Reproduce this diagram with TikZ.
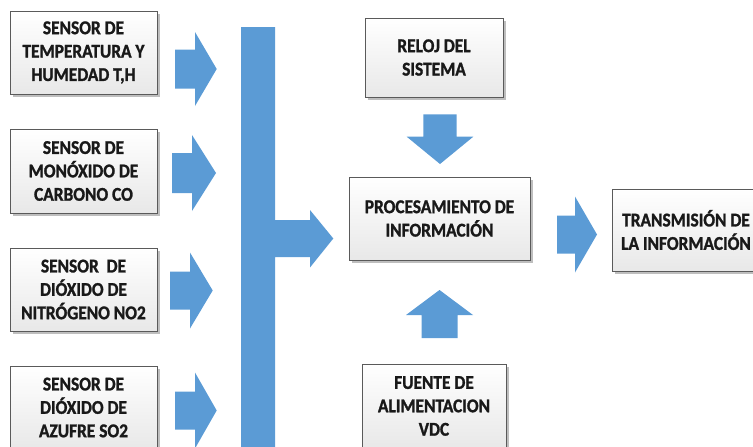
\documentclass[tikz,border=0pt]{standalone}
\usepackage{fontspec}
\newfontfamily\boxfont[FakeStretch=0.89,FakeBold=1.3]{Carlito Bold}
\usetikzlibrary{shadows}
\definecolor{arrowblue}{RGB}{91,155,213}
\definecolor{boxline}{RGB}{90,90,90}
\definecolor{boxshadow}{RGB}{190,190,190}
\newcommand\rarrshape[6]{% x start, x head base, x tip, y centre, shaft half, head half
  \fill[arrowblue] (#1,#4-#5) -- (#2,#4-#5) -- (#2,#4-#6) -- (#3,#4) -- (#2,#4+#6) -- (#2,#4+#5) -- (#1,#4+#5) -- cycle;}
\newcommand\varrshape[6]{% y start, y head base, y tip, x centre, shaft half, head half
  \fill[arrowblue] (#4-#5,#1) -- (#4-#5,#2) -- (#4-#6,#2) -- (#4,#3) -- (#4+#6,#2) -- (#4+#5,#2) -- (#4+#5,#1) -- cycle;}
\tikzset{
  blockbox/.style={draw=boxline, line width=0.8pt, top color=white, bottom color=gray!18,
    drop shadow={shadow xshift=3pt, shadow yshift=-3pt, fill=boxshadow, opacity=1},
    inner sep=0pt, align=center, text=black!90,
    font=\boxfont\fontsize{19.5}{23.4}\selectfont},
}
\begin{document}
\begin{tikzpicture}[x=1pt,y=-1pt]
\useasboundingbox (0,0) rectangle (753,447);
% sensor boxes
\node[blockbox, minimum width=147pt, minimum height=83pt] (s1) at (83.5,52.5) {SENSOR DE\\TEMPERATURA Y\\HUMEDAD T,H};
\node[blockbox, minimum width=147pt, minimum height=84pt] (s2) at (83.5,171) {SENSOR DE\\MONÓXIDO DE\\CARBONO CO};
\node[blockbox, minimum width=147pt, minimum height=83pt] (s3) at (83.5,289.5) {SENSOR\ \ DE\\DIÓXIDO DE\\NITRÓGENO NO2};
\node[blockbox, minimum width=147pt, minimum height=83pt] (s4) at (83.5,407.5) {SENSOR DE\\DIÓXIDO DE\\AZUFRE SO2};
% right column
\node[blockbox, minimum width=138pt, minimum height=79pt] (reloj) at (434,57.5) {RELOJ DEL\\SISTEMA};
\node[blockbox, minimum width=181pt, minimum height=83pt] (proc) at (439.5,218.5) {PROCESAMIENTO DE\\INFORMACIÓN};
\node[blockbox, minimum width=148pt, minimum height=82pt] (trans) at (686,230) {TRANSMISIÓN DE\\LA INFORMACIÓN};
\node[blockbox, minimum width=144pt, minimum height=84pt] (fuente) at (434,406) {FUENTE DE\\ALIMENTACION\\VDC};
% sensor arrows
\rarrshape{175}{195}{216.7}{69}{19.5}{37}
\rarrshape{172}{192}{216}{173}{20}{38}
\rarrshape{170}{190}{212.7}{290.5}{19}{38}
\rarrshape{175}{195}{216.7}{410.5}{19}{38}
% collecting bus
\fill[arrowblue] (241,27) -- (275,27) -- (275,220) -- (310,220) -- (310,210) -- (333.3,238.5)
  -- (310,267.5) -- (310,257) -- (275,257) -- (275,452) -- (241,452) -- cycle;
% clock arrow (down)
\varrshape{114.3}{136.7}{164}{440}{16.7}{33.3}
% power arrow (up)
\varrshape{338}{315}{290}{439.5}{18}{33.5}
% output arrow
\rarrshape{557}{575}{597}{234.5}{19}{38}
\end{tikzpicture}
\end{document}
